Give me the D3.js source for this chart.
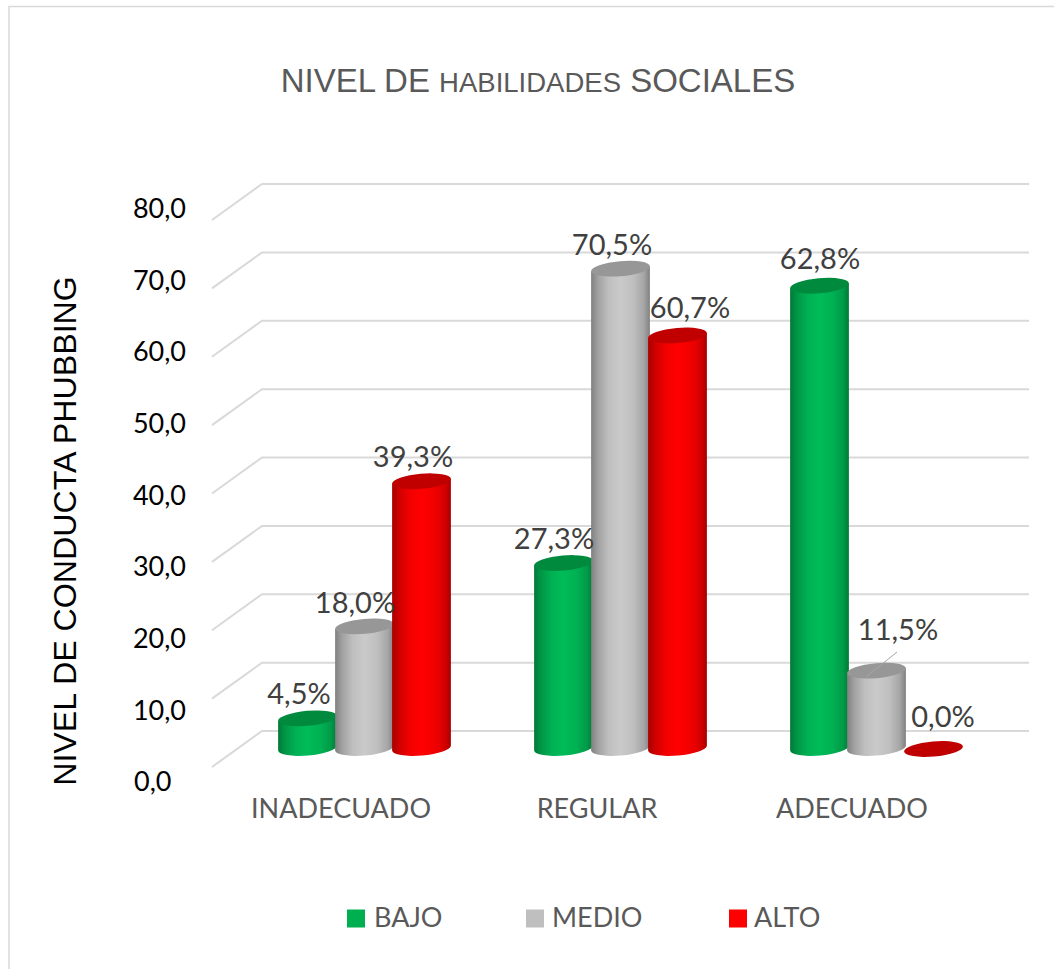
<!DOCTYPE html>
<html><head><meta charset="utf-8">
<script src="https://cdn.jsdelivr.net/npm/d3@7/dist/d3.min.js"></script>
<style>html,body{margin:0;padding:0;background:#fff;overflow:hidden}svg{display:block}</style>
</head><body><svg id="c" width="1054" height="970"></svg>
<script>
const categories = ["INADECUADO", "REGULAR", "ADECUADO"];
const seriesNames = ["BAJO", "MEDIO", "ALTO"];
// bar heights as drawn in the picture (the 62,8% bar is drawn taller than its label)
const bajo = [4.5, 27.3, 68.0];
const medio = [18.0, 70.5, 11.5];
const alto = [39.3, 60.7, 0.0];
// printed data labels
const bajoLabels = ["4,5%", "27,3%", "62,8%"];
const medioLabels = ["18,0%", "70,5%", "11,5%"];
const altoLabels = ["39,3%", "60,7%", "0,0%"];
const yTicks = [0, 10, 20, 30, 40, 50, 60, 70, 80];
const seriesValues = [bajo, medio, alto];
const seriesLabels = [bajoLabels, medioLabels, altoLabels];
const palette = [
  {main:"#00bb58", edge:"#007a38", cap:"#008a3e", legend:"#00b050"},
  {main:"#cacaca", edge:"#808080", cap:"#979797", legend:"#bfbfbf"},
  {main:"#ff0000", edge:"#a80000", cap:"#c00000", legend:"#ff0000"}
];
const fmt = v => v.toFixed(1).replace(".", ",");
const svg = d3.select("#c");
const W = 1054, H = 970;

// chart frame
svg.append("path").attr("d", `M${W},6.5H9V969`).attr("fill","none").attr("stroke","#d9d9d9").attr("stroke-width",1.5);

const y = d3.scaleLinear().domain([0,80]).range([731,184]);
const yBar = d3.scaleLinear().domain([0,80]).range([749,204]);
const yLabel = d3.scaleLinear().domain([0,80]).range([782,208.5]);
const x0 = d3.scaleBand().domain(d3.range(categories.length)).range([236.5,1004.5]);
const x1 = d3.scaleBand().domain(d3.range(seriesNames.length)).range([-85.5,85.5]);

// 3D depth offset between back wall and floor front
const depthX = -50, depthY = 36, backX = 262, endX = 1029;
const grid = svg.append("g").attr("fill","none").attr("stroke","#d9d9d9").attr("stroke-width",2);
yTicks.forEach(t => {
  grid.append("path").attr("d", `M${backX+depthX},${y(t)+depthY}L${backX},${y(t)}H${endX}`);
});

// gradients
const defs = svg.append("defs");
palette.forEach((p,i) => {
  const g = defs.append("linearGradient").attr("id","g"+i).attr("x1",0).attr("x2",1).attr("y1",0).attr("y2",0);
  [[0,p.edge],[0.12,d3.interpolateRgb(p.edge,p.main)(0.45)],[0.3,d3.interpolateRgb(p.edge,p.main)(0.85)],[0.5,p.main],[0.72,d3.interpolateRgb(p.edge,p.main)(0.85)],[0.9,d3.interpolateRgb(p.edge,p.main)(0.5)],[1,p.edge]]
    .forEach(([o,c]) => g.append("stop").attr("offset",o).attr("stop-color",c));
});

const rx = 29.5, ry = 7.5, tilt = -5;
const cosT = Math.cos(tilt*Math.PI/180), sinT = Math.sin(tilt*Math.PI/180);
const bars = svg.append("g");
categories.forEach((cat,ci) => {
  seriesNames.forEach((s,si) => {
    const v = seriesValues[si][ci];
    const cx = x0(ci) + x0.bandwidth()/2 + x1(si) + x1.bandwidth()/2;
    const yb = yBar(0) - 1, yt = yBar(v);
    const lx = cx - rx*cosT, rxx = cx + rx*cosT, dy = rx*sinT;
    if (v > 0) {
      bars.append("path")
        .attr("d", `M${lx},${yt-dy}L${lx},${yb-dy}A${rx},${ry},${tilt},0,0,${rxx},${yb+dy}L${rxx},${yt+dy}Z`)
        .attr("fill", `url(#g${si})`);
    }
    bars.append("ellipse").attr("rx",rx).attr("ry",ry)
      .attr("transform",`translate(${cx},${yt}) rotate(${tilt})`)
      .attr("fill",palette[si].cap);
  });
});

// y tick labels
svg.append("g").selectAll("text").data(yTicks).join("text")
  .attr("x",d=>d===0?134:186).attr("y",d=>yLabel(d)).attr("dy","0.35em").attr("text-anchor",d=>d===0?"start":"end")
  .attr("font-family","Lato, sans-serif").attr("font-size",27).attr("fill","#000").text(fmt);

// category labels
svg.append("g").selectAll("text").data(categories).join("text")
  .attr("x",(d,i)=>[341,597,852][i]).attr("y",809).attr("dy","0.35em").attr("text-anchor","middle")
  .attr("font-family","Lato, sans-serif").attr("font-size",27).attr("fill","#595959").text(d=>d);

// data labels
const labelPos = [
  [[299,694],[355,603],[413,457]],
  [[554,539],[612,245],[690,308]],
  [[820,259],[898,630],[943,717]]
];
const labels = svg.append("g");
categories.forEach((cat,ci)=>seriesNames.forEach((s,si)=>{
  const [lx,ly]=labelPos[ci][si];
  labels.append("text").attr("x",lx).attr("y",ly).attr("dy","0.35em").attr("text-anchor","middle")
    .attr("font-family","Lato, sans-serif").attr("font-size",29).attr("fill","#404040")
    .text(seriesLabels[si][ci]);
}));
// leader line
svg.append("line").attr("x1",897).attr("y1",652).attr("x2",866).attr("y2",677).attr("stroke","#a6a6a6").attr("stroke-width",1);

// title
const title = svg.append("text").attr("x",538).attr("y",80).attr("dy","0.35em").attr("text-anchor","middle")
  .attr("font-family","'Liberation Sans', Arial, sans-serif").attr("fill","#595959").attr("font-size",33);
title.append("tspan").text("NIVEL DE ");
title.append("tspan").attr("font-size",27.5).text("HABILIDADES");
title.append("tspan").text(" SOCIALES");

// y title
svg.append("text").attr("transform","translate(65,531) rotate(-90)").attr("dy","0.35em").attr("text-anchor","middle")
  .attr("font-family","'Liberation Sans', Arial, sans-serif").attr("font-size",32.2).attr("fill","#000")
  .text("NIVEL DE CONDUCTA PHUBBING");

// legend
const legX = [347,526,729], legText=[374,552,754];
const leg = svg.append("g");
seriesNames.forEach((s,i)=>{
  leg.append("rect").attr("x",legX[i]).attr("y",909.5).attr("width",18).attr("height",18).attr("fill",palette[i].legend);
  leg.append("text").attr("x",legText[i]).attr("y",918).attr("dy","0.35em")
    .attr("font-family","Lato, sans-serif").attr("font-size",27).attr("fill","#595959").text(s);
});
</script></body></html>
